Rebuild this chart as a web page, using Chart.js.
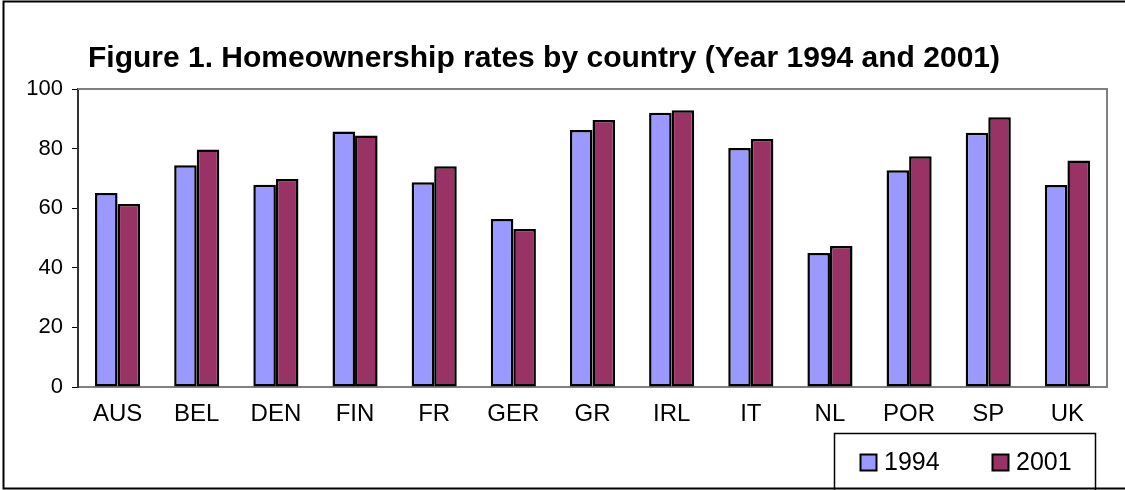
<!DOCTYPE html>
<html>
<head>
<meta charset="utf-8">
<script src="https://cdn.jsdelivr.net/npm/chart.js@4"></script>
<style>
  html, body { margin: 0; padding: 0; background: #fff; }
  #wrap { width: 1125px; height: 490px; }
</style>
</head>
<body>
<div id="wrap"><canvas id="homeowners"></canvas></div>
<script>
const countries = ['AUS', 'BEL', 'DEN', 'FIN', 'FR', 'GER', 'GR', 'IRL', 'IT', 'NL', 'POR', 'SP', 'UK'];
const rates1994 = [65.1, 74.4, 67.9, 85.7, 68.7, 56.4, 86.2, 92.0, 80.2, 45.0, 72.7, 85.3, 67.8];
const rates2001 = [61.4, 79.7, 69.8, 84.4, 74.1, 53.0, 89.6, 92.9, 83.2, 47.3, 77.4, 90.5, 76.0];
const yTicks = [0, 20, 40, 60, 80, 100];
const titleText = 'Figure 1. Homeownership rates by country (Year 1994 and 2001)';

const FONT = '"Liberation Sans", Arial, sans-serif';

// frame, title, plot border and the boxed legend
const decorations = {
    id: 'decorations',
    beforeDraw(chart) {
        const c = chart.ctx;
        c.save();
        c.fillStyle = '#fff';
        c.fillRect(0, 0, chart.width, chart.height);
        c.restore();
    },
    afterDraw(chart) {
        const c = chart.ctx;
        const a = chart.chartArea;
        c.save();
        // outer frame (no right edge visible in the original)
        c.strokeStyle = '#000';
        c.lineWidth = 2;
        c.beginPath();
        c.moveTo(chart.width, 1.5);
        c.lineTo(3.5, 1.5);
        c.lineTo(3.5, 488.5);
        c.lineTo(chart.width, 488.5);
        c.stroke();

        // plot area border, top and right
        c.strokeStyle = '#808080';
        c.lineWidth = 2;
        c.beginPath();
        c.moveTo(a.left, a.top);
        c.lineTo(a.right, a.top);
        c.lineTo(a.right, a.bottom);
        c.stroke();

        // title
        c.fillStyle = '#000';
        c.font = 'bold 30px ' + FONT;
        c.textBaseline = 'alphabetic';
        c.fillText(titleText, 88, 67);

        // legend
        c.strokeStyle = '#000';
        c.lineWidth = 1.5;
        c.strokeRect(834.5, 433.5, 261, 60);
        const items = chart.data.datasets;
        const xs = [860, 992];
        c.font = '25px ' + FONT;
        c.textBaseline = 'middle';
        items.forEach((ds, i) => {
            c.fillStyle = ds.backgroundColor;
            c.fillRect(xs[i], 454, 16, 16);
            c.lineWidth = 2;
            c.strokeRect(xs[i] + 0.5, 454.5, 16, 16);
            c.fillStyle = '#000';
            c.fillText(ds.label, xs[i] + 24, 463);
        });
        c.restore();
    }
};

const ctx = document.getElementById('homeowners').getContext('2d');
const chart = new Chart(ctx, {
    type: 'bar',
    data: {
        labels: countries,
        datasets: [{
            label: '1994',
            data: rates1994,
            backgroundColor: '#9999FF',
            borderColor: '#000',
            borderWidth: 2.5,
            borderSkipped: false
        }, {
            label: '2001',
            data: rates2001,
            backgroundColor: '#993366',
            borderColor: '#000',
            borderWidth: 2.5,
            borderSkipped: false
        }]
    },
    options: {
        responsive: true,
        maintainAspectRatio: false,
        animation: false,
        layout: {
            padding: { left: 0, right: 18, top: 89, bottom: 0 }
        },
        datasets: {
            bar: { categoryPercentage: 0.57, barPercentage: 1.0 }
        },
        plugins: {
            legend: { display: false },
            title: { display: false },
            tooltip: { enabled: false }
        },
        scales: {
            x: {
                grid: { display: false, drawTicks: false },
                border: { color: '#808080', width: 2 },
                ticks: {
                    color: '#000',
                    padding: 13,
                    font: { family: FONT, size: 24 }
                },
                afterFit(scale) { scale.height = 103; }
            },
            y: {
                min: 0,
                max: 100,
                afterBuildTicks(scale) {
                    scale.ticks = yTicks.map(v => ({ value: v }));
                },
                grid: {
                    drawOnChartArea: false,
                    drawTicks: true,
                    tickLength: 6,
                    color: '#000'
                },
                border: { color: '#333', width: 2 },
                ticks: {
                    color: '#000',
                    padding: 9,
                    font: { family: FONT, size: 22 }
                },
                afterFit(scale) { scale.width = 78; }
            }
        }
    },
    plugins: [decorations]
});
</script>
</body>
</html>
